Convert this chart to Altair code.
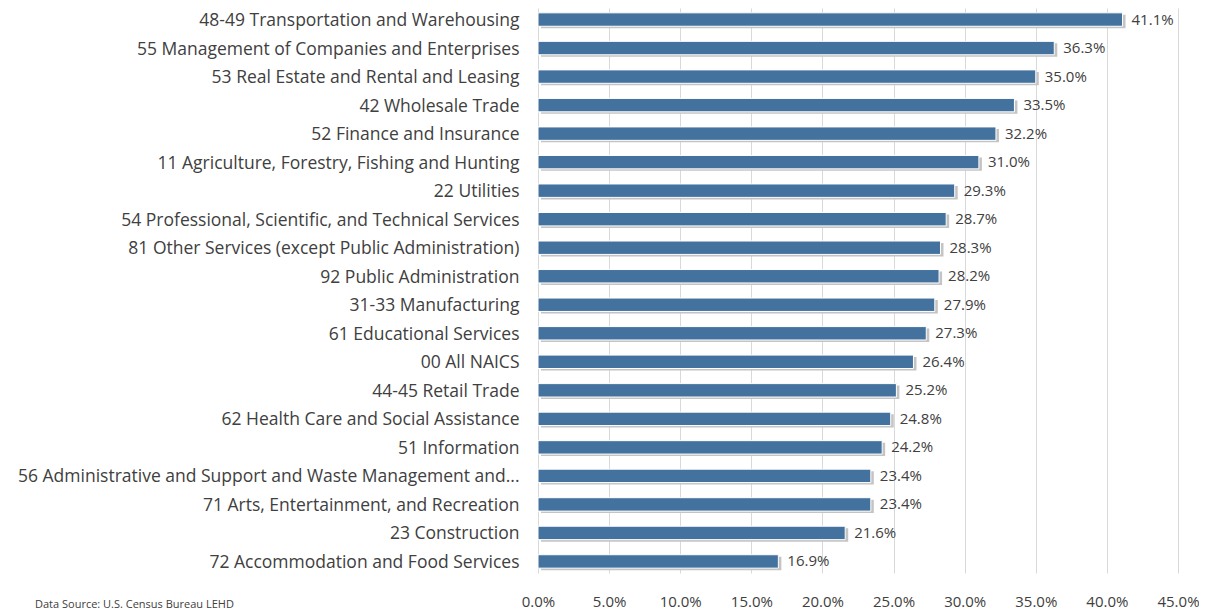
import altair as alt
import pandas as pd

industries = [
    "48-49 Transportation and Warehousing",
    "55 Management of Companies and Enterprises",
    "53 Real Estate and Rental and Leasing",
    "42 Wholesale Trade",
    "52 Finance and Insurance",
    "11 Agriculture, Forestry, Fishing and Hunting",
    "22 Utilities",
    "54 Professional, Scientific, and Technical Services",
    "81 Other Services (except Public Administration)",
    "92 Public Administration",
    "31-33 Manufacturing",
    "61 Educational Services",
    "00 All NAICS",
    "44-45 Retail Trade",
    "62 Health Care and Social Assistance",
    "51 Information",
    "56 Administrative and Support and Waste Management and...",
    "71 Arts, Entertainment, and Recreation",
    "23 Construction",
    "72 Accommodation and Food Services",
]
values = [0.411, 0.363, 0.350, 0.335, 0.322, 0.310, 0.293, 0.287, 0.283, 0.282,
          0.279, 0.273, 0.264, 0.252, 0.248, 0.242, 0.234, 0.234, 0.216, 0.169]
x_ticks = [0.0, 0.05, 0.10, 0.15, 0.20, 0.25, 0.30, 0.35, 0.40, 0.45]
source_note = ["Data Source: U.S. Census Bureau LEHD"]

df = pd.DataFrame({"industry": industries, "value": values})

FONT = "Open Sans"
TXT = "#404040"

y_enc = alt.Y("industry:N", sort=industries, title=None,
              scale=alt.Scale(paddingInner=0.53, paddingOuter=0.17),
              axis=alt.Axis(domain=False, ticks=False, grid=False, labelPadding=19,
                            labelOffset=1.5,
                            labelFontSize=17.5, labelFont=FONT, labelColor=TXT,
                            labelLimit=560))
x_enc = alt.X("value:Q", title=None,
              scale=alt.Scale(domain=[0, 0.45], nice=False),
              axis=alt.Axis(values=x_ticks, format=".1%", domain=False, ticks=False,
                            grid=True, gridColor="#d9d9d9", gridWidth=1,
                            labelFlush=False, labelOverlap=False,
                            labelPadding=21, labelFontSize=15, labelFont=FONT,
                            labelColor=TXT))

base = alt.Chart(df)

shadow = base.mark_bar(color="#c4c4c4", xOffset=3, yOffset=2).encode(x=x_enc, y=y_enc)
bars = base.mark_bar(color="#44729e", stroke="white", strokeWidth=1).encode(x=x_enc, y=y_enc)
labels = base.mark_text(align="left", baseline="middle", dx=9, fontSize=15,
                        font=FONT, color=TXT).encode(
    x=x_enc, y=y_enc, text=alt.Text("value:Q", format=".1%"))

note = alt.Chart(pd.DataFrame({"t": source_note})).mark_text(
    align="left", baseline="middle", fontSize=11, font=FONT, color=TXT
).encode(x=alt.value(-503), y=alt.value(597), text="t:N")

chart = alt.layer(shadow, bars, labels, note).properties(
    width=640, height=565,
    autosize=alt.AutoSizeParams(type="none"),
    padding={"left": 530, "top": 0, "right": 21, "bottom": 38},
).configure_view(stroke=None)

chart.save("out.html", embed_options={"renderer": "svg", "actions": False})
